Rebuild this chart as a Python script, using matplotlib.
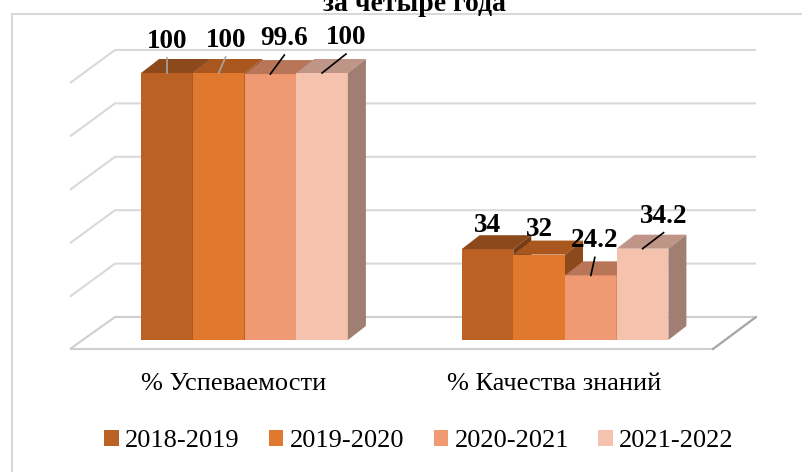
import matplotlib
matplotlib.use("Agg")
import matplotlib.pyplot as plt
from matplotlib.patches import Polygon, Rectangle, Patch

plt.rcParams['font.family'] = ['Liberation Serif', 'DejaVu Serif']

# data
title = "за четыре года"
categories = ["% Успеваемости", "% Качества знаний"]
years = ["2018-2019", "2019-2020", "2020-2021", "2021-2022"]
uspev = [100, 100, 99.6, 100]
kachestvo = [34, 32, 24.2, 34.2]
values = [uspev, kachestvo]

front_col = ['#BC6124', '#E0782E', '#F09A74', '#F5C2AE']
top_col = ['#8C4A1C', '#A9571F', '#B87558', '#BE9586']
side_col = ['#733C16', '#8C4A1C', '#A3664B', '#A07E72']

W, H = 803, 472
fig = plt.figure(figsize=(W / 100, H / 100), dpi=100)
ax = fig.add_axes([0, 0, 1, 1])
ax.axis('off')

# pixel scale of the axes (x: category units, y: value units)
ux = 320.5
uy = 2.67
x0_px, y0_px = 244.5, 340
ax.set_xlim(-x0_px / ux, (W - x0_px) / ux)
ax.set_ylim(-(H - y0_px) / uy, y0_px / uy)

def px(dx):
    return dx / ux

def py(dy):
    return dy / uy

# chart area border
fig.patches.append(Rectangle((12 / W, -0.1), 1.2, 1 - 14 / H + 0.1, transform=fig.transFigure,
                             fill=False, edgecolor='#D9D9D9', lw=1.5, zorder=0))

# back wall gridlines and left wall diagonals
wall_off = py(23)
wx0, wx1 = px(115 - x0_px), px(756 - x0_px)
ddx_w, ddy_w = px(45), py(33)
for g in range(0, 101, 20):
    yy = g + wall_off
    if g > 0:
        ax.plot([wx0 - ddx_w, wx0, wx1], [yy - ddy_w, yy, yy], color='#D9D9D9', lw=1.5,
                solid_capstyle='butt', zorder=1)

# floor
fx0, fx1 = px(70 - x0_px), px(713 - x0_px)
fy = py(-9)
floor = Polygon([(wx0, wall_off), (wx1, wall_off), (fx1, fy), (fx0, fy)], closed=True,
                facecolor='white', edgecolor='#CFCFCF', lw=1.5, zorder=1)
ax.add_patch(floor)
ax.plot([wx1, fx1], [wall_off, fy], color='#A6A6A6', lw=1.5, zorder=1)

# bars (front via ax.bar, top and side faces offset by depth)
bw = px(51.7)
ddx, ddy = px(18), py(14)
centers = [0, 1]

lab_off = [[(0, 25), (7, 26), (14, 29), (24, 29)],
           [(0, 17), (0, 19), (4, 28), (21, 26)]]
leader = [['#A6A6A6', '#A6A6A6', 'black', 'black'],
          [None, None, 'black', 'black']]

for gi, c in enumerate(centers):
    for i, v in enumerate(values[gi]):
        xc = c + (i - 1.5) * bw
        xl, xr = xc - bw / 2, xc + bw / 2
        ax.bar(xc, v, width=bw, color=front_col[i], edgecolor='none', zorder=3 + i)
        ax.add_patch(Polygon([(xl, v), (xr, v), (xr + ddx, v + ddy), (xl + ddx, v + ddy)],
                             closed=True, facecolor=top_col[i], edgecolor='none', zorder=3 + i))
        ax.add_patch(Polygon([(xr, 0), (xr + ddx, ddy), (xr + ddx, v + ddy), (xr, v)],
                             closed=True, facecolor=side_col[i], edgecolor='none', zorder=3 + i))
        ox, oy = lab_off[gi][i]
        lx, ly = xc + px(ox), v + py(oy)
        ax.text(lx, ly, f"{v:g}", ha='center', va='baseline', fontsize=19.5,
                fontweight='bold', color='black', zorder=10)
        if leader[gi][i]:
            ax.plot([lx, xc], [ly - py(10), v], color=leader[gi][i], lw=1.2, zorder=9)

# category labels
for c, name in zip(centers, categories):
    ax.text(c - px(11), py(340 - 390), name, ha='center', va='baseline', fontsize=19)

# title (partly cut off by the top edge, as in the source)
fig.text(414 / W, 1 - 11 / H, title, ha='center', va='baseline', fontsize=20, fontweight='bold')

# legend
handles = [Patch(facecolor=col, edgecolor='none', label=y) for col, y in zip(front_col, years)]
fig.legend(handles=handles, loc='center', bbox_to_anchor=(419 / W, 1 - 441 / H), ncol=4,
           frameon=False, fontsize=19, handlelength=0.55, handleheight=0.55,
           handletextpad=0.25, columnspacing=1.1, borderpad=0)

fig.savefig("out.png", dpi=100)
